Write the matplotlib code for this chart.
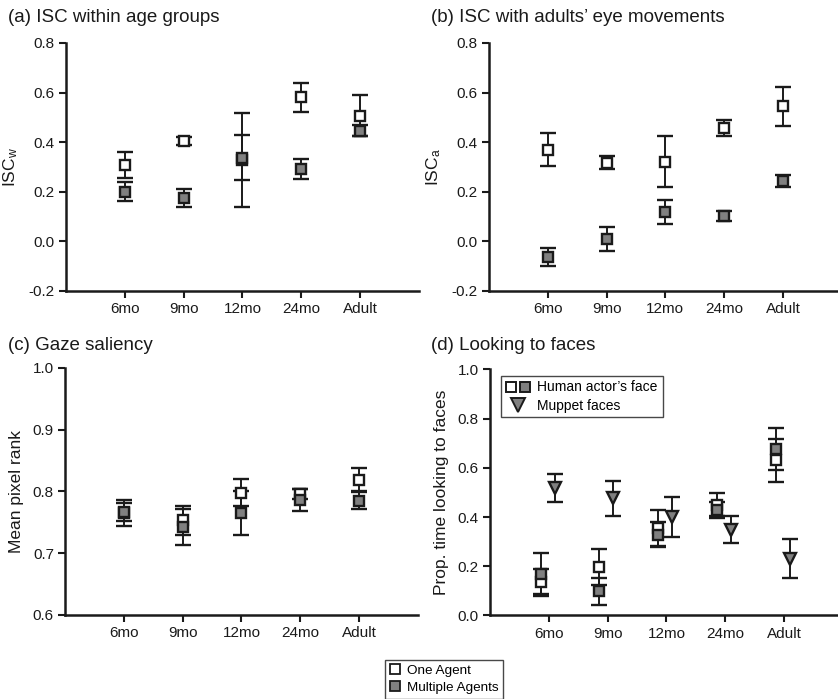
import matplotlib
matplotlib.use("Agg")
import matplotlib.pyplot as plt
from matplotlib.lines import Line2D
from matplotlib.legend_handler import HandlerTuple
import numpy as np

plt.rcParams['font.family'] = ['Liberation Sans', 'DejaVu Sans']
plt.rcParams['mathtext.fontset'] = 'custom'
plt.rcParams['mathtext.rm'] = 'Liberation Sans'
plt.rcParams['mathtext.it'] = 'Liberation Sans:italic'

ages = ['6mo', '9mo', '12mo', '24mo', 'Adult']

# (a) ISC within age groups
a_one = [0.309, 0.403, 0.328, 0.581, 0.507]
a_one_err = [0.052, 0.016, 0.19, 0.058, 0.084]
a_multi = [0.201, 0.175, 0.338, 0.293, 0.447]
a_multi_err = [0.04, 0.035, 0.092, 0.041, 0.024]

# (b) ISC with adults' eye movements
b_one = [0.369, 0.318, 0.322, 0.457, 0.544]
b_one_err = [0.067, 0.025, 0.104, 0.032, 0.079]
b_multi = [-0.063, 0.010, 0.119, 0.104, 0.243]
b_multi_err = [0.035, 0.047, 0.047, 0.02, 0.025]

# (c) Gaze saliency
c_one = [0.765, 0.753, 0.798, 0.796, 0.819]
c_one_err = [0.021, 0.024, 0.022, 0.008, 0.019]
c_multi = [0.767, 0.743, 0.765, 0.786, 0.785]
c_multi_err = [0.015, 0.029, 0.036, 0.018, 0.014]

# (d) Looking to faces
d_one = [0.137, 0.198, 0.357, 0.45, 0.63]
d_one_err = [0.05, 0.073, 0.073, 0.047, 0.088]
d_multi = [0.168, 0.098, 0.329, 0.43, 0.677]
d_multi_err = [0.087, 0.055, 0.05, 0.032, 0.085]
d_muppet = [0.518, 0.476, 0.40, 0.349, 0.23]
d_muppet_err = [0.058, 0.07, 0.082, 0.055, 0.079]

GRAY = '#808080'
INK = '#1a1a1a'

fig = plt.figure(figsize=(8.38, 6.99), dpi=100)

def setup(ax, ylim, yticks, ylabel):
    ax.set_xlim(0, 6)
    ax.set_ylim(*ylim)
    ax.set_yticks(yticks)
    ax.set_yticklabels(['%.1f' % t for t in yticks])
    ax.set_xticks(np.arange(1, 6))
    ax.set_xticklabels(ages)
    for s in ['top', 'right']:
        ax.spines[s].set_visible(False)
    for s in ['left', 'bottom']:
        ax.spines[s].set_linewidth(1.8)
        ax.spines[s].set_color(INK)
    ax.tick_params(direction='out', length=5, width=1.5, labelsize=11,
                   colors=INK, pad=3)
    ax.set_ylabel(ylabel, fontsize=12.5, color=INK, labelpad=6)

def eb(ax, x, y, e, fc, marker='s', ms=6.8):
    ax.errorbar(x, y, yerr=e, fmt=marker, ms=ms, mfc=fc, mec=INK, mew=1.7,
                ecolor=INK, elinewidth=1.4, capsize=6, capthick=1.4,
                clip_on=False)

x = np.arange(1, 6)

ax_a = fig.add_axes([0.0788, 0.5837, 0.421, 0.3548])
setup(ax_a, (-0.2, 0.8), [-0.2, 0.0, 0.2, 0.4, 0.6, 0.8], 'ISC$_\\mathrm{w}$')
eb(ax_a, x, a_one, a_one_err, 'white')
eb(ax_a, x, a_multi, a_multi_err, GRAY)

ax_b = fig.add_axes([0.5835, 0.5837, 0.421, 0.3548])
setup(ax_b, (-0.2, 0.8), [-0.2, 0.0, 0.2, 0.4, 0.6, 0.8], 'ISC$_\\mathrm{a}$')
eb(ax_b, x, b_one, b_one_err, 'white')
eb(ax_b, x, b_multi, b_multi_err, GRAY)

ax_c = fig.add_axes([0.0776, 0.1202, 0.421, 0.3534])
setup(ax_c, (0.6, 1.0), [0.6, 0.7, 0.8, 0.9, 1.0], 'Mean pixel rank')
eb(ax_c, x, c_one, c_one_err, 'white')
eb(ax_c, x, c_multi, c_multi_err, GRAY)

ax_d = fig.add_axes([0.5847, 0.1195, 0.421, 0.352])
setup(ax_d, (0.0, 1.0), [0.0, 0.2, 0.4, 0.6, 0.8, 1.0], 'Prop. time looking to faces')
eb(ax_d, x - 0.14, d_one, d_one_err, 'white')
eb(ax_d, x - 0.14, d_multi, d_multi_err, GRAY)
eb(ax_d, x + 0.1, d_muppet, d_muppet_err, GRAY, marker='v', ms=9)

# panel titles
for (tx, ty, t) in [(8, 17, '(a) ISC within age groups'),
                    (431, 17, "(b) ISC with adults\u2019 eye movements"),
                    (8, 345, '(c) Gaze saliency'),
                    (431, 345, '(d) Looking to faces')]:
    fig.text(tx / 838, 1 - ty / 699, t, fontsize=13.5, color=INK,
             ha='left', va='center')

# legend in (d)
h_white = Line2D([], [], ls='none', marker='s', ms=7.5, mfc='white', mec=INK, mew=1.4)
h_gray = Line2D([], [], ls='none', marker='s', ms=7.5, mfc=GRAY, mec=INK, mew=1.4)
h_tri = Line2D([], [], ls='none', marker='v', ms=9.5, mfc=GRAY, mec=INK, mew=1.4)
leg = ax_d.legend([(h_white, h_gray), h_tri],
                  ["Human actor\u2019s face", 'Muppet faces'],
                  handler_map={tuple: HandlerTuple(ndivide=None, pad=0.1)},
                  loc='upper left', bbox_to_anchor=(0.03, 0.975),
                  fontsize=10, frameon=True, fancybox=False,
                  handlelength=1.8, handletextpad=0.5, labelspacing=0.3,
                  borderpad=0.35, borderaxespad=0)
leg.get_frame().set_edgecolor(INK)
leg.get_frame().set_linewidth(1.0)

# figure legend at bottom
f_one = Line2D([], [], ls='none', marker='s', ms=7, mfc='white', mec=INK, mew=1.3)
f_multi = Line2D([], [], ls='none', marker='s', ms=7, mfc=GRAY, mec=INK, mew=1.3)
fl = fig.legend([f_one, f_multi], ['One Agent', 'Multiple Agents'],
                loc='upper center', bbox_to_anchor=(0.530, 1 - 653 / 699),
                fontsize=9.7, frameon=True, fancybox=False,
                handlelength=0.8, handletextpad=0.5, labelspacing=0.35,
                borderpad=0.35)
fl.get_frame().set_edgecolor(INK)
fl.get_frame().set_linewidth(1.0)

fig.savefig('out.png', dpi=100)
